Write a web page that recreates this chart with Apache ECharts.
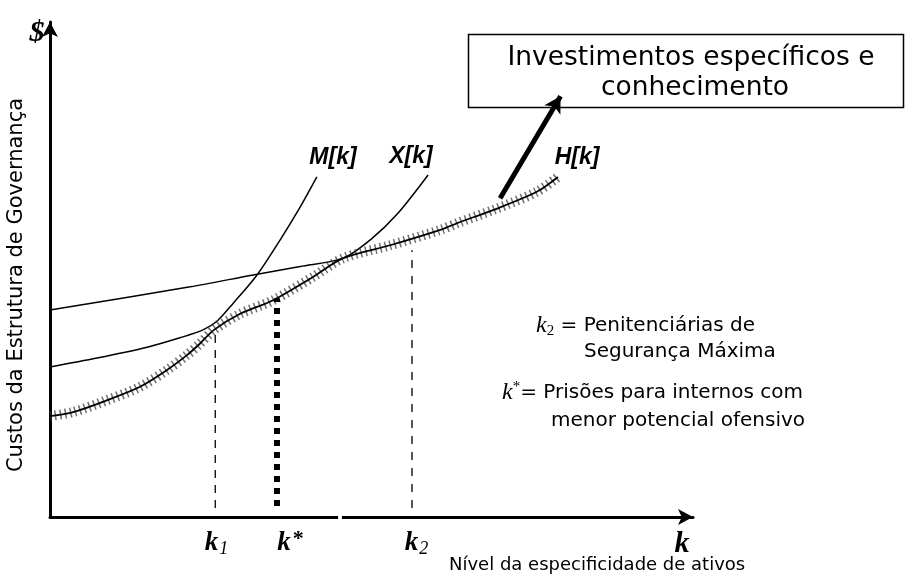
<!DOCTYPE html>
<html>
<head>
<meta charset="utf-8">
<script src="https://cdn.jsdelivr.net/npm/echarts@6/dist/echarts.min.js"></script>
<style>
html,body{margin:0;padding:0;background:#fff;}
#chart{width:906px;height:574px;}
</style>
</head>
<body>
<div id="chart"></div>
<script>
// Asset specificity (k) and governance cost values (0-100 scale)
const kH    = [0, 3.6, 8.9, 14.0, 18.2, 21.3, 23.3, 25.5, 29.5, 34.7, 40.9, 45.6, 52.9, 60.7, 63.8, 68.9, 75.7, 79.0];
const costH = [20.4, 21.2, 23.6, 26.3, 29.7, 32.7, 35.0, 37.8, 41.0, 43.8, 48.5, 52.3, 54.9, 58.0, 59.6, 62.0, 65.7, 68.7];
const kM    = [0, 7.3, 15.1, 20.2, 23.8, 26.0, 28.5, 32.2, 35.8, 38.9, 41.5];
const costM = [30.3, 32.1, 34.3, 36.2, 37.8, 39.6, 43.2, 48.9, 56.0, 62.6, 68.7];
const kX    = [0, 21.8, 31.6, 38.9, 45.6, 50.0, 54.0, 58.8];
const costX = [41.8, 46.5, 48.9, 50.6, 52.3, 56.2, 61.2, 69.1];

// reference points on the k axis
const kMarks    = [25.7, 35.3, 56.3];          // k1, k*, k2
const kMarkTops = [36.8, 44.2, 53.9];
const kMarkBots = [1.8, 2.2, 1.8];
const tickValues = [25.9, 37.4, 57.0];
const tickLabels = ['{k|k}{s|1}', '{k|k}{p|*}', '{k|k}{s|2}'];
const axisGap = [44.8, 45.4];
const arrowFrom = [70.0, 64.4];
const arrowTo   = [79.4, 85.0];

const pairs = (xs, ys) => xs.map((x, i) => [x, ys[i]]);

const chart = echarts.init(document.getElementById('chart'), null, {renderer: 'canvas'});

const option = {
  animation: false,
  backgroundColor: '#fff',
  grid: {left: 50, right: 213, top: 22, bottom: 57, containLabel: false},
  xAxis: {
    type: 'value', min: 0, max: 100,
    axisLine: {show: true, onZero: false, symbol: ['none', 'arrow'], symbolSize: [12, 15],
      lineStyle: {color: '#000', width: 3}},
    axisTick: {show: false},
    splitLine: {show: false},
    axisLabel: {
      show: true, customValues: tickValues, margin: 11,
      formatter: function (v) {
        const i = tickValues.indexOf(v);
        return i >= 0 ? tickLabels[i] : '';
      },
      rich: {
        k: {fontFamily: 'Liberation Serif', fontStyle: 'italic', fontWeight: 'bold', fontSize: 27, color: '#000', lineHeight: 30, verticalAlign: 'middle'},
        s: {fontFamily: 'Liberation Serif', fontStyle: 'italic', fontSize: 18, color: '#000', lineHeight: 30, verticalAlign: 'bottom', padding: [0, 0, 0, 1]},
        p: {fontFamily: 'Liberation Serif', fontWeight: 'bold', fontSize: 22, color: '#000', lineHeight: 30, verticalAlign: 'top', padding: [0, 0, 0, 2]}
      }
    }
  },
  yAxis: {
    type: 'value', min: 0, max: 100,
    axisLine: {show: true, symbol: ['none', 'arrow'], symbolSize: [12, 15],
      lineStyle: {color: '#000', width: 3}},
    axisTick: {show: false},
    axisLabel: {show: false},
    splitLine: {show: false}
  },
  series: [
    {
      name: 'M(k)', type: 'line', smooth: 0.3, symbol: 'none',
      data: pairs(kM, costM),
      lineStyle: {color: '#000', width: 1.5}
    },
    {
      name: 'X(k)', type: 'line', smooth: 0.3, symbol: 'none',
      data: pairs(kX, costX),
      lineStyle: {color: '#000', width: 1.5}
    },
    {
      name: 'H(k) halo', type: 'line', smooth: 0.3, symbol: 'none',
      data: pairs(kH, costH),
      lineStyle: {color: '#333', width: 10, type: [1.5, 3.5], opacity: 0.7}
    },
    {
      name: 'H(k)', type: 'line', smooth: 0.3, symbol: 'none',
      data: pairs(kH, costH),
      lineStyle: {color: '#000', width: 1.8}
    },
    {
      name: 'k1', type: 'line', symbol: 'none',
      data: [[kMarks[0], kMarkBots[0]], [kMarks[0], kMarkTops[0]]],
      lineStyle: {color: '#000', width: 1.3, type: [8, 7]}
    },
    {
      name: 'k*', type: 'line', symbol: 'none',
      data: [[kMarks[1], kMarkBots[1]], [kMarks[1], kMarkTops[1]]],
      lineStyle: {color: '#000', width: 6, type: [6, 6], cap: 'butt'}
    },
    {
      name: 'k2', type: 'line', symbol: 'none',
      data: [[kMarks[2], kMarkBots[2]], [kMarks[2], kMarkTops[2]]],
      lineStyle: {color: '#000', width: 1.3, type: [8, 8]}
    },
    {
      name: 'gap', type: 'line', symbol: 'none', clip: false, z: 10,
      data: [[axisGap[0], 0], [axisGap[1], 0]],
      lineStyle: {color: '#fff', width: 6}
    },
    {
      name: 'arrow', type: 'line', symbol: 'none', data: [],
      markLine: {
        silent: true, symbol: ['none', 'arrow'], symbolSize: [14, 16],
        label: {show: false},
        lineStyle: {color: '#000', width: 5, type: 'solid'},
        data: [[{coord: arrowFrom}, {coord: arrowTo}]]
      }
    }
  ],
  graphic: [
    {type: 'text', x: 17, y: 285, rotation: Math.PI / 2,
      style: {text: 'Custos da Estrutura de Governança', fontFamily: 'DejaVu Sans', fontSize: 21, fill: '#000', align: 'center', verticalAlign: 'middle'}},
    {type: 'text', x: 37, y: 33,
      style: {text: '$', fontFamily: 'Liberation Serif', fontStyle: 'italic', fontWeight: 'bold', fontSize: 30, fill: '#000', align: 'center', verticalAlign: 'middle'}},
    {type: 'text', x: 682, y: 544,
      style: {text: 'k', fontFamily: 'Liberation Serif', fontStyle: 'italic', fontWeight: 'bold', fontSize: 30, fill: '#000', align: 'center', verticalAlign: 'middle'}},
    {type: 'text', x: 449, y: 565,
      style: {text: 'Nível da especificidade de ativos', fontFamily: 'DejaVu Sans', fontSize: 18, fill: '#000', align: 'left', verticalAlign: 'middle'}},
    {type: 'text', x: 333, y: 158,
      style: {text: 'M[k]', fontFamily: 'Liberation Sans', fontStyle: 'italic', fontWeight: 'bold', fontSize: 23, fill: '#000', align: 'center', verticalAlign: 'middle'}},
    {type: 'text', x: 411, y: 157,
      style: {text: 'X[k]', fontFamily: 'Liberation Sans', fontStyle: 'italic', fontWeight: 'bold', fontSize: 23, fill: '#000', align: 'center', verticalAlign: 'middle'}},
    {type: 'text', x: 577, y: 158,
      style: {text: 'H[k]', fontFamily: 'Liberation Sans', fontStyle: 'italic', fontWeight: 'bold', fontSize: 23, fill: '#000', align: 'center', verticalAlign: 'middle'}},
    {type: 'rect', shape: {x: 468.5, y: 34.5, width: 435, height: 73},
      style: {fill: '#fff', stroke: '#000', lineWidth: 1.5}},
    {type: 'text', x: 691, y: 58,
      style: {text: 'Investimentos específicos e', fontFamily: 'DejaVu Sans', fontSize: 26.5, fill: '#000', align: 'center', verticalAlign: 'middle'}},
    {type: 'text', x: 695, y: 88,
      style: {text: 'conhecimento', fontFamily: 'DejaVu Sans', fontSize: 26.5, fill: '#000', align: 'center', verticalAlign: 'middle'}},
    {type: 'text', x: 536, y: 326,
      style: {text: '{k|k}{s|2}{t| = Penitenciárias de}', align: 'left', verticalAlign: 'middle',
        rich: {
          k: {fontFamily: 'Liberation Serif', fontStyle: 'italic', fontSize: 24, fill: '#000', lineHeight: 26},
          s: {fontFamily: 'Liberation Serif', fontSize: 15, fill: '#000', lineHeight: 26, verticalAlign: 'bottom'},
          t: {fontFamily: 'DejaVu Sans', fontSize: 20, fill: '#000', lineHeight: 26}
        }}},
    {type: 'text', x: 584, y: 352,
      style: {text: 'Segurança Máxima', fontFamily: 'DejaVu Sans', fontSize: 20, fill: '#000', align: 'left', verticalAlign: 'middle'}},
    {type: 'text', x: 502, y: 393,
      style: {text: '{k|k}{p|*}{t|= Prisões para internos com}', align: 'left', verticalAlign: 'middle',
        rich: {
          k: {fontFamily: 'Liberation Serif', fontStyle: 'italic', fontSize: 24, fill: '#000', lineHeight: 26},
          p: {fontFamily: 'Liberation Serif', fontSize: 15, fill: '#000', lineHeight: 26, verticalAlign: 'top'},
          t: {fontFamily: 'DejaVu Sans', fontSize: 20, fill: '#000', lineHeight: 26}
        }}},
    {type: 'text', x: 551, y: 421,
      style: {text: 'menor potencial ofensivo', fontFamily: 'DejaVu Sans', fontSize: 20, fill: '#000', align: 'left', verticalAlign: 'middle'}}
  ]
};
chart.setOption(option);
</script>
</body>
</html>
